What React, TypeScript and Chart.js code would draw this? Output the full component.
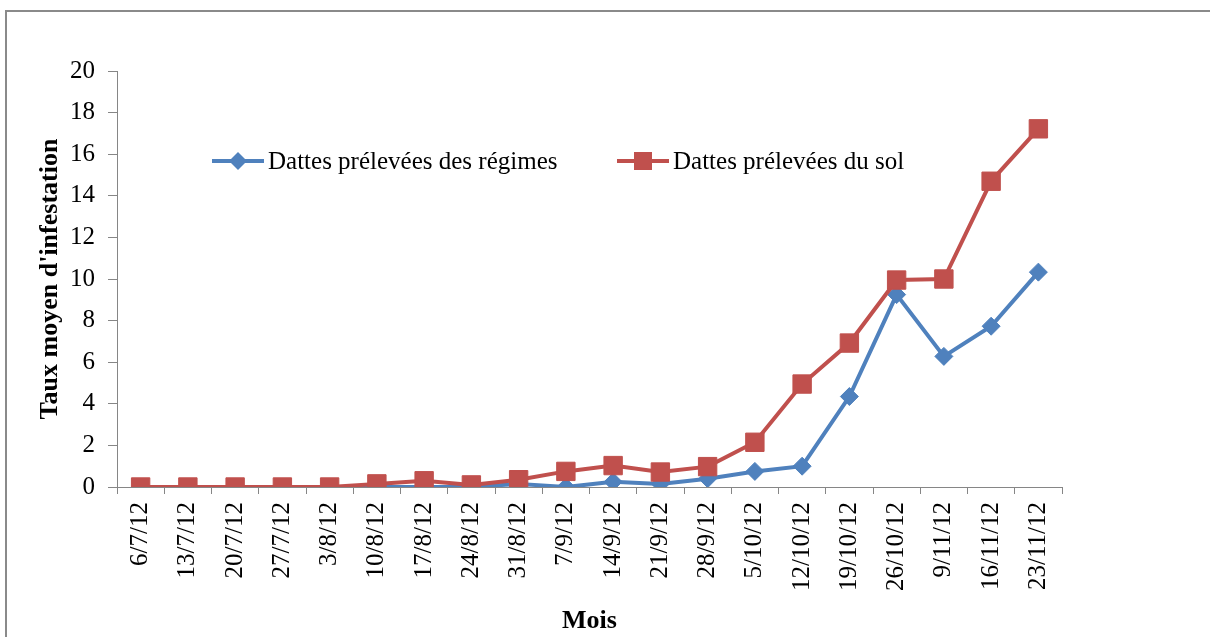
import React, { useEffect, useRef } from "react";
import { Chart, registerables } from "chart.js";

Chart.register(...registerables);

const categories = [
  "6/7/12", "13/7/12", "20/7/12", "27/7/12", "3/8/12", "10/8/12", "17/8/12",
  "24/8/12", "31/8/12", "7/9/12", "14/9/12", "21/9/12", "28/9/12", "5/10/12",
  "12/10/12", "19/10/12", "26/10/12", "9/11/12", "16/11/12", "23/11/12",
];
const regimesValues = [0, 0, 0, 0, 0, 0, 0, 0, 0.15, 0, 0.25, 0.15, 0.4, 0.75, 1.0, 4.35, 9.25, 6.28, 7.73, 10.33];
const solValues = [0, 0, 0, 0, 0, 0.15, 0.3, 0.1, 0.35, 0.75, 1.03, 0.72, 0.98, 2.15, 4.95, 6.92, 9.95, 10.0, 14.7, 17.22];
const seriesNames = ["Dattes prélevées des régimes", "Dattes prélevées du sol"];
const yTitle = "Taux moyen d'infestation";
const xTitle = "Mois";

const BLUE = "#4F81BD";
const RED = "#C0504D";
const AXIS = "#868686";
const SERIF = '"Liberation Serif", "Times New Roman", serif';

const legendPlugin = {
  id: "inlineLegend",
  afterDraw(chart: any) {
    const { ctx, chartArea } = chart;
    const y = chartArea.top + 90;
    const offsets = [95, 500];
    chart.data.datasets.forEach((ds: any, i: number) => {
      const x0 = chartArea.left + offsets[i];
      ctx.save();
      ctx.strokeStyle = ds.borderColor;
      ctx.lineWidth = 4;
      ctx.beginPath();
      ctx.moveTo(x0, y);
      ctx.lineTo(x0 + 52, y);
      ctx.stroke();
      ctx.fillStyle = ds.borderColor;
      const cx = x0 + 26;
      ctx.beginPath();
      if (ds.pointStyle === "rectRot") {
        ctx.moveTo(cx - 9, y);
        ctx.lineTo(cx, y - 9);
        ctx.lineTo(cx + 9, y);
        ctx.lineTo(cx, y + 9);
        ctx.closePath();
      } else {
        ctx.rect(cx - 9, y - 9, 18, 18);
      }
      ctx.fill();
      ctx.fillStyle = "#000";
      ctx.font = `25px ${SERIF}`;
      ctx.textBaseline = "middle";
      ctx.textAlign = "left";
      ctx.fillText(ds.label, x0 + 56, y + 1);
      ctx.restore();
    });
  },
};

export default function App() {
  const canvasRef = useRef<HTMLCanvasElement | null>(null);

  useEffect(() => {
    if (!canvasRef.current) return;
    const chart = new Chart(canvasRef.current, {
      type: "line",
      data: {
        labels: categories,
        datasets: [
          {
            label: seriesNames[0],
            data: regimesValues,
            borderColor: BLUE,
            backgroundColor: BLUE,
            pointBackgroundColor: BLUE,
            pointBorderColor: BLUE,
            pointStyle: "rectRot",
            pointRadius: 9,
            pointBorderWidth: 1,
            borderWidth: 4,
            tension: 0,
            order: 1,
          },
          {
            label: seriesNames[1],
            data: solValues,
            borderColor: RED,
            backgroundColor: RED,
            pointBackgroundColor: RED,
            pointBorderColor: RED,
            pointStyle: "rect",
            pointRadius: 13,
            pointBorderWidth: 1,
            borderWidth: 4,
            tension: 0,
            order: 0,
          },
        ],
      },
      options: {
        responsive: true,
        maintainAspectRatio: false,
        animation: false,
        layout: { padding: { left: 0, top: 71, right: 148, bottom: 0 } },
        plugins: {
          legend: { display: false },
          tooltip: { enabled: false },
        },
        scales: {
          x: {
            type: "category",
            offset: true,
            afterFit: (scale: any) => {
              scale.height = 150;
            },
            grid: {
              offset: true,
              drawOnChartArea: false,
              drawTicks: true,
              tickLength: 7,
              color: AXIS,
            },
            border: { display: true, color: AXIS, width: 1 },
            ticks: {
              color: "#000",
              font: { family: SERIF, size: 25 },
              minRotation: 90,
              maxRotation: 90,
              padding: 8,
              autoSkip: false,
            },
            title: {
              display: true,
              text: xTitle,
              color: "#000",
              font: { family: SERIF, size: 26, weight: "bold" },
              padding: { top: 10, bottom: 0 },
            },
          },
          y: {
            min: 0,
            max: 20,
            afterFit: (scale: any) => {
              scale.width = 117;
            },
            grid: {
              drawOnChartArea: false,
              drawTicks: true,
              tickLength: 9,
              color: AXIS,
            },
            border: { display: true, color: AXIS, width: 1 },
            ticks: {
              stepSize: 2,
              color: "#000",
              font: { family: SERIF, size: 25 },
              padding: 13,
            },
            title: {
              display: true,
              text: yTitle,
              color: "#000",
              font: { family: SERIF, size: 26, weight: "bold" },
              padding: { top: 35, bottom: 0 },
            },
          },
        },
      },
      plugins: [legendPlugin],
    });
    return () => chart.destroy();
  }, []);

  return (
    <div
      style={{
        position: "fixed",
        left: 0,
        top: 0,
        width: 1210,
        height: 637,
        overflow: "hidden",
        background: "#fff",
      }}
    >
      <div
        style={{
          position: "absolute",
          left: 5,
          top: 10,
          width: 1400,
          height: 800,
          border: "2px solid #8a8a8a",
          boxSizing: "border-box",
        }}
      />
      <div style={{ position: "absolute", left: 0, top: 0, width: 1210, height: 637 }}>
        <canvas ref={canvasRef} />
      </div>
    </div>
  );
}
